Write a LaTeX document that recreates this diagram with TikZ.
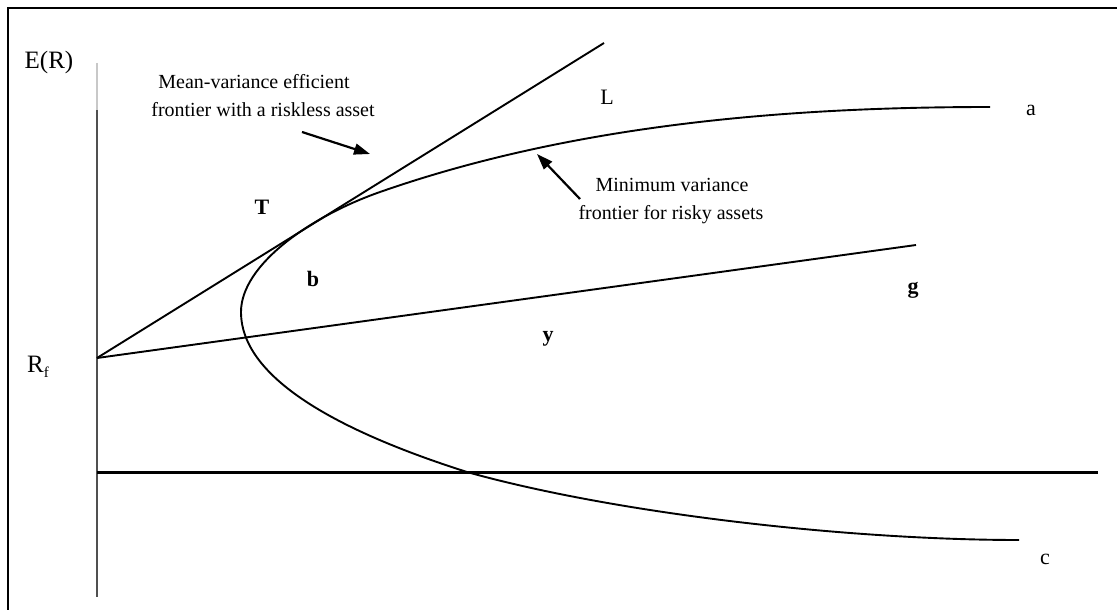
\documentclass[tikz,border=0pt]{standalone}
\usepackage{fontspec}
\setmainfont{Liberation Serif}
\usetikzlibrary{arrows.meta}
\definecolor{axisgray}{HTML}{505050}
\definecolor{lightaxis}{HTML}{C8C8C8}
\begin{document}
\begin{tikzpicture}[x=1pt,y=-1pt,
  lbl/.style={inner sep=0pt, font=\fontsize{22}{24}\selectfont},
  axlbl/.style={inner sep=0pt, font=\fontsize{25}{27}\selectfont},
  blbl/.style={inner sep=0pt, font=\fontsize{22}{24}\selectfont\bfseries},
  note/.style={inner sep=0pt, font=\fontsize{20}{22}\selectfont},
  curve/.style={line width=1.9pt, black},
  pointer/.style={line width=2.2pt, -{Triangle[length=16pt,width=11pt]}}]
\useasboundingbox (0,0) rectangle (1117,610);
% frame
\draw[line width=2pt] (8,615) -- (8,8) -- (1122,8);
% axes
\draw[line width=2.2pt, lightaxis] (97,63) -- (97,110);
\draw[line width=2.2pt, axisgray] (97,110) -- (97,597);
\draw[line width=3pt, black] (97,472) -- (1098,472);
% key points
\coordinate (rf) at (97,358);
\coordinate (Lend) at (604,43);
\coordinate (gend) at (916,245);
\coordinate (top) at (990,107);
\coordinate (vtx) at (241,312);
\coordinate (bot) at (1019,540);
% lines from the riskless asset
\draw[curve] (rf) -- (Lend);
\draw[curve] (rf) -- (gend);
% minimum variance frontier
\draw[curve] (top) .. controls (800,107) and (580,122) .. (380,192)
  .. controls (310,216.5) and (241,265) .. (vtx)
  .. controls (241,385) and (360,438) .. (467,472)
  .. controls (617,514) and (850,540) .. (bot);
% labels
\node[axlbl] (ER) at (49,62) {E(R)};
\node[axlbl] (Rf) at (38,367) {R\raisebox{-5pt}{\fontsize{15}{15}\selectfont f}};
\node[blbl] (T) at (262,207) {T};
\node[blbl] (b) at (313,279) {b};
\node[lbl] (L) at (607,97) {L};
\node[lbl] (a) at (1031,110) {a};
\node[blbl] (g) at (913,290) {g};
\node[blbl] (y) at (548,339) {y};
\node[lbl] (c) at (1045,559) {c};
% annotations
\node[note] (n1a) at (254,82) {Mean-variance efficient};
\node[note] (n1b) at (263,110) {frontier with a riskless asset};
\node[note] (n2a) at (672,185) {Minimum variance};
\node[note] (n2b) at (671,215) {frontier for risky assets};
\coordinate (p1s) at (302,132);
\coordinate (p1e) at (370,154);
\coordinate (p2s) at (580,199);
\coordinate (p2e) at (537,154);
\draw[pointer] (p1s) -- (p1e);
\draw[pointer] (p2s) -- (p2e);
\end{tikzpicture}
\end{document}
